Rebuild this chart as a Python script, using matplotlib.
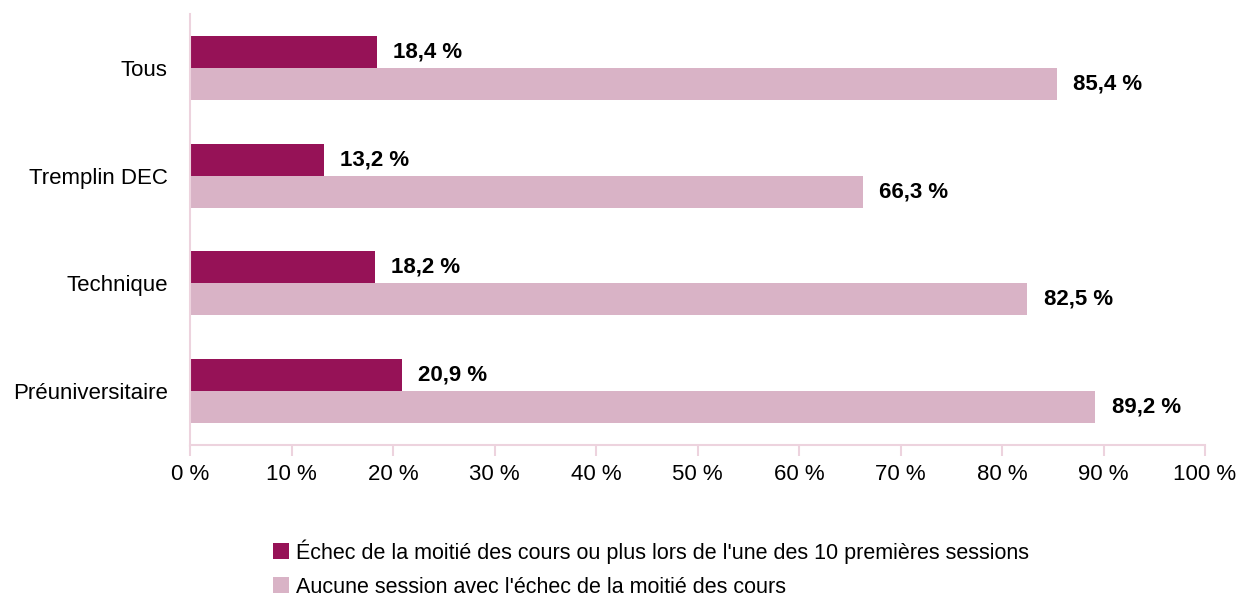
import matplotlib
matplotlib.use("Agg")
import matplotlib.pyplot as plt
from matplotlib import font_manager as fm
import numpy as np

names = {f.name for f in fm.fontManager.ttflist}
fam = "Liberation Sans Narrow" if "Liberation Sans Narrow" in names else "Liberation Sans"
plt.rcParams['font.family'] = [fam, 'DejaVu Sans']

categories = ["Tous", "Tremplin DEC", "Technique", "Préuniversitaire"]
echec = [18.4, 13.2, 18.2, 20.9]
aucune = [85.4, 66.3, 82.5, 89.2]
series_labels = ["Échec de la moitié des cours ou plus lors de l'une des 10 premières sessions",
                 "Aucune session avec l'échec de la moitié des cours"]
xticks = [0, 10, 20, 30, 40, 50, 60, 70, 80, 90, 100]

dark = "#961257"
light = "#D9B3C6"
spine_c = "#EDD3DE"

fig = plt.figure(figsize=(12.38, 5.97), dpi=100)
ax = fig.add_axes([190/1238, 1-445/597, (1205-190)/1238, (445-14)/597])

y = np.arange(len(categories))
h = 0.296
ax.barh(y - h/2, echec, height=h, color=dark, label=series_labels[0])
ax.barh(y + h/2, aucune, height=h, color=light, label=series_labels[1])

for yi, v in zip(y, echec):
    ax.text(v + 1.6, yi - h/2, f"{v:.1f} %".replace(".", ","), va="center", ha="left",
            fontsize=16, fontweight="bold")
for yi, v in zip(y, aucune):
    ax.text(v + 1.6, yi + h/2, f"{v:.1f} %".replace(".", ","), va="center", ha="left",
            fontsize=16, fontweight="bold")

ax.set_ylim(len(categories) - 0.5, -0.5)
ax.set_xlim(0, 100)
ax.set_yticks(y)
ax.set_yticklabels(categories, fontsize=16)
ax.set_xticks(xticks)
ax.set_xticklabels([f"{t} %" for t in xticks], fontsize=16)
ax.tick_params(axis='y', length=0, pad=16)
ax.tick_params(axis='x', length=8, color=spine_c, width=1.5, pad=6)
for s in ["top", "right"]:
    ax.spines[s].set_visible(False)
for s in ["left", "bottom"]:
    ax.spines[s].set_color(spine_c)
    ax.spines[s].set_linewidth(1.5)

leg = fig.legend(loc="upper left", bbox_to_anchor=(273/1238, 1-539/597), frameon=False,
                 fontsize=15.5, handlelength=0.75, handleheight=0.75, handletextpad=0.3,
                 labelspacing=0.62, borderaxespad=0, borderpad=0)

fig.savefig("out.png", dpi=100)
